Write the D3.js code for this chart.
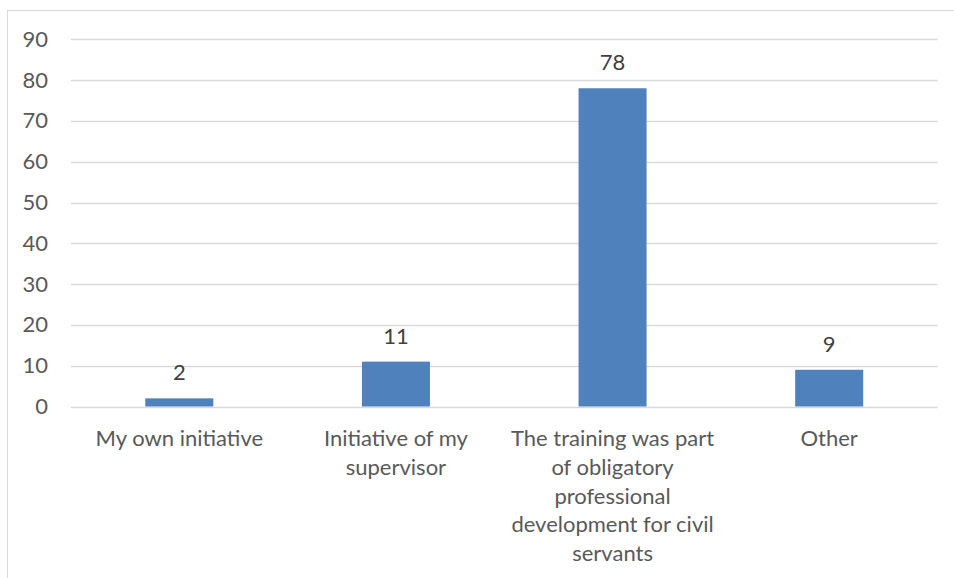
<!DOCTYPE html>
<html><head><meta charset="utf-8">
<script src="https://cdn.jsdelivr.net/npm/d3@7"></script>
<style>body{margin:0;background:#fff}svg{display:block}</style>
</head><body>
<script>
const categories = ["My own initiative", "Initiative of my supervisor", "The training was part of obligatory professional development for civil servants", "Other"];
const values = [2, 11, 78, 9];
const yTicks = [0, 10, 20, 30, 40, 50, 60, 70, 80, 90];

(function () {
const W = 954, H = 578;
const svg = d3.select("body").append("svg").attr("width", W).attr("height", H);
const font = "Lato, 'Open Sans', sans-serif";
const txt = "#595959";
const fs = 22;

svg.append("rect").attr("x", 7.5).attr("y", 10.5).attr("width", 960).attr("height", 600)
  .attr("fill", "none").attr("stroke", "#d9d9d9").attr("stroke-width", 1);

const pLeft = 71, pRight = 937.5, pTop = 39.3, pBottom = 406.5;
const x = d3.scaleBand().domain(categories).range([pLeft, pRight]).padding(0);
const y = d3.scaleLinear().domain([0, 90]).range([pBottom, pTop]);

// gridlines
svg.append("g").selectAll("line").data(yTicks).join("line")
  .attr("x1", pLeft).attr("x2", pRight)
  .attr("y1", d => Math.round(y(d)) + 0.5).attr("y2", d => Math.round(y(d)) + 0.5)
  .attr("stroke", "#d9d9d9").attr("stroke-width", 1.3);

// y axis labels
const yAxis = d3.axisLeft(y).tickValues(yTicks).tickSize(0).tickPadding(0);
const gy = svg.append("g").attr("transform", `translate(48,0)`).call(yAxis);
gy.select(".domain").remove();
gy.selectAll("text").attr("font-family", font).attr("font-size", fs).attr("fill", txt);

// bars
const barW = x.bandwidth() * 0.314;
svg.append("g").selectAll("rect").data(values).join("rect")
  .attr("x", (d, i) => x(categories[i]) + x.bandwidth() / 2 - barW / 2)
  .attr("width", barW)
  .attr("y", d => y(d))
  .attr("height", d => y(0) - y(d))
  .attr("fill", "#4f81bd");

// value labels
svg.append("g").selectAll("text").data(values).join("text")
  .attr("x", (d, i) => x(categories[i]) + x.bandwidth() / 2)
  .attr("y", d => y(d) - 18)
  .attr("text-anchor", "middle")
  .attr("font-family", font).attr("font-size", fs).attr("fill", "#404040")
  .text(d => d);

// category labels with wrapping
const gx = svg.append("g");
const maxW = 214;
categories.forEach(c => {
  const cx = x(c) + x.bandwidth() / 2;
  const t = gx.append("text")
    .attr("x", cx).attr("y", 446)
    .attr("text-anchor", "middle")
    .attr("font-family", font).attr("font-size", fs).attr("fill", txt);
  const words = c.split(" ");
  let line = [];
  let ts = t.append("tspan").attr("x", cx).attr("dy", 0);
  words.forEach(w => {
    line.push(w);
    ts.text(line.join(" "));
    if (ts.node().getComputedTextLength() > maxW && line.length > 1) {
      line.pop();
      ts.text(line.join(" "));
      line = [w];
      ts = t.append("tspan").attr("x", cx).attr("dy", 28.8).text(w);
    }
  });
});
})();
</script>
</body></html>
